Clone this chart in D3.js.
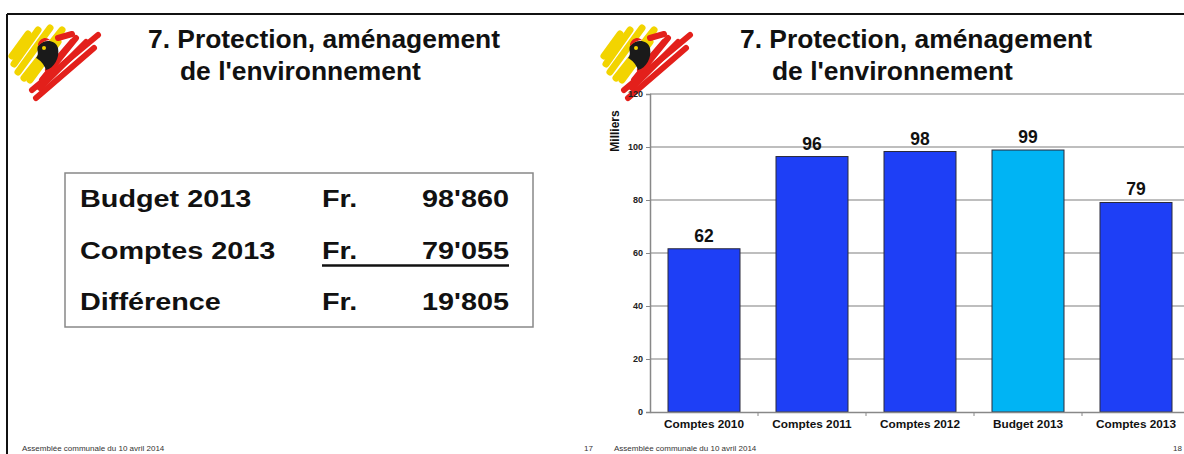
<!DOCTYPE html>
<html>
<head>
<meta charset="utf-8">
<script src="https://cdn.jsdelivr.net/npm/d3@7/dist/d3.min.js"></script>
<style>
  html, body { margin: 0; padding: 0; background: #fff; }
  svg { display: block; font-family: "Liberation Sans", Arial, sans-serif; }
</style>
</head>
<body>
<svg id="chart" width="1184" height="454"></svg>
<script>
// ---- data ----
const titleLines = ["7. Protection, aménagement", "de l'environnement"];
const categories = ["Comptes 2010", "Comptes 2011", "Comptes 2012", "Budget 2013", "Comptes 2013"];
const values = [61.6, 96.4, 98.3, 98.86, 79.06];
const barKinds = ["comptes", "comptes", "comptes", "budget", "comptes"];
const yTicks = [0, 20, 40, 60, 80, 100, 120];
const yLabel = "Milliers";
const tableLabels = ["Budget 2013", "Comptes 2013", "Différence"];
const tableCurrency = ["Fr.", "Fr.", "Fr."];
const tableAmounts = ["98'860", "79'055", "19'805"];
const footerText = "Assemblée communale du 10 avril 2014";
const pageNumbers = ["17", "18"];

const svg = d3.select("#chart");

// ---- slide frame ----
svg.append("line").attr("x1", 7).attr("x2", 1184).attr("y1", 14).attr("y2", 14)
  .attr("stroke", "#111").attr("stroke-width", 2);
svg.append("line").attr("x1", 7).attr("x2", 7).attr("y1", 14).attr("y2", 454)
  .attr("stroke", "#111").attr("stroke-width", 2);

// ---- logo ----
function drawLogo(g) {
  const yellow = [[14,56,38,22],[18,64,50,20],[24,70,62,22],[12,48,28,26],[30,72,58,34]];
  yellow.forEach(s => g.append("line").attr("x1", s[0]).attr("y1", s[1]).attr("x2", s[2]).attr("y2", s[3])
    .attr("stroke", "#f2d400").attr("stroke-width", 7).attr("stroke-linecap", "round"));
  const red = [[32,82,98,27],[36,90,94,40],[42,72,76,30],[48,62,72,34],[40,80,86,34],[58,30,72,26]];
  red.forEach(s => g.append("line").attr("x1", s[0]).attr("y1", s[1]).attr("x2", s[2]).attr("y2", s[3])
    .attr("stroke", "#e3201b").attr("stroke-width", 6).attr("stroke-linecap", "round"));
  g.append("path").attr("d", "M38,38 C44,30 56,32 58,40 C60,50 54,60 46,62 C44,56 40,52 36,50 C40,46 36,42 38,38 Z")
    .attr("fill", "#1a1a1a");
  g.append("path").attr("d", "M38,36 C40,30 46,28 50,32 C46,32 42,34 38,38 Z").attr("fill", "#e3201b");
  g.append("circle").attr("cx", 44).attr("cy", 40).attr("r", 2).attr("fill", "#f2d400");
}
drawLogo(svg.append("g").attr("transform", "translate(0,8)"));
drawLogo(svg.append("g").attr("transform", "translate(592,8)"));

// ---- titles ----
function drawTitle(x) {
  svg.append("text").attr("x", x).attr("y", 48).text(titleLines[0])
    .attr("font-size", 26.4).attr("font-weight", "bold").attr("fill", "#111");
  svg.append("text").attr("x", x + 32).attr("y", 80).text(titleLines[1])
    .attr("font-size", 26.4).attr("font-weight", "bold").attr("fill", "#111");
}
drawTitle(148);
drawTitle(740);

// ---- left slide: table ----
svg.append("rect").attr("x", 65).attr("y", 173).attr("width", 468).attr("height", 154)
  .attr("fill", "none").attr("stroke", "#888").attr("stroke-width", 1.5);
const rowY = [207, 259, 310];
function stretchedText(x, yy, t, anchor) {
  svg.append("text").attr("transform", `translate(${x},${yy}) scale(1.2,1)`)
    .attr("text-anchor", anchor || "start").text(t)
    .attr("font-size", 24).attr("font-weight", "bold").attr("fill", "#111");
}
tableLabels.forEach((t, i) => {
  stretchedText(80, rowY[i], t);
  stretchedText(322, rowY[i], tableCurrency[i]);
  stretchedText(509, rowY[i], tableAmounts[i], "end");
});
svg.append("line").attr("x1", 322).attr("x2", 509).attr("y1", 265.5).attr("y2", 265.5)
  .attr("stroke", "#111").attr("stroke-width", 2.5);

// ---- right slide: bar chart ----
const x = d3.scaleBand().domain(categories).range([650, 1190]).paddingInner(1/3).paddingOuter(1/6);
const y = d3.scaleLinear().domain([0, 120]).range([412, 94]);

// gridlines
svg.append("g").selectAll("line").data(yTicks.filter(d => d > 0)).join("line")
  .attr("x1", 650).attr("x2", 1190).attr("y1", d => y(d)).attr("y2", d => y(d))
  .attr("stroke", "#a8a8a8").attr("stroke-width", 1.5);

// y axis
const yAxis = svg.append("g").attr("transform", "translate(650,0)")
  .call(d3.axisLeft(y).tickValues(yTicks).tickSize(4).tickPadding(3));
yAxis.select(".domain").attr("stroke", "#888").attr("stroke-width", 1.5);
yAxis.selectAll(".tick line").attr("stroke", "#888");
yAxis.selectAll("text").attr("font-size", 9).attr("font-weight", "bold").attr("fill", "#222")
  .attr("font-family", "Liberation Sans, Arial, sans-serif");

// bars
svg.append("g").selectAll("rect").data(values).join("rect")
  .attr("x", (d, i) => x(categories[i]))
  .attr("width", x.bandwidth())
  .attr("y", d => y(d))
  .attr("height", d => y(0) - y(d))
  .attr("fill", (d, i) => barKinds[i] === "budget" ? "#00b4f4" : "#1e3ff6")
  .attr("stroke", "#2a2a3a").attr("stroke-width", 1);

// value labels
svg.append("g").selectAll("text").data(values).join("text")
  .attr("x", (d, i) => x(categories[i]) + x.bandwidth() / 2)
  .attr("y", d => y(d) - 7)
  .attr("text-anchor", "middle")
  .attr("font-size", 17.5).attr("font-weight", "bold").attr("fill", "#111")
  .text(d => d3.format(".0f")(d));

// x axis
const xAxis = svg.append("g").attr("transform", "translate(0,412)")
  .call(d3.axisBottom(x).tickSize(0).tickPadding(8));
xAxis.select(".domain").attr("stroke", "#888").attr("stroke-width", 1.5);
xAxis.selectAll("text").attr("font-size", 11.8).attr("font-weight", "bold").attr("fill", "#111")
  .attr("font-family", "Liberation Sans, Arial, sans-serif");
// small ticks between categories
const bounds = categories.slice(1).map(c => x(c) - x.step() * x.paddingInner() / 2);
svg.append("g").selectAll("line").data(bounds).join("line")
  .attr("x1", d => d).attr("x2", d => d).attr("y1", 412).attr("y2", 416)
  .attr("stroke", "#888").attr("stroke-width", 1);

// y label
svg.append("text").attr("transform", "translate(619,131) rotate(-90)")
  .attr("text-anchor", "middle").attr("font-size", 12).attr("font-weight", "bold").attr("fill", "#111")
  .text(yLabel);

// ---- footers ----
[[22, 584], [614, 1173]].forEach((p, i) => {
  svg.append("text").attr("x", p[0]).attr("y", 451).text(footerText)
    .attr("font-size", 8).attr("fill", "#333");
  svg.append("text").attr("x", p[1]).attr("y", 451).text(pageNumbers[i])
    .attr("font-size", 8).attr("fill", "#333");
});
</script>
</body>
</html>
